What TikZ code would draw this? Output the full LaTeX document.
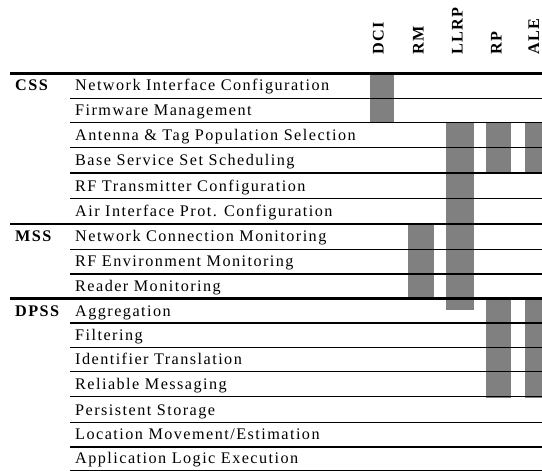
\documentclass[tikz,border=0pt]{standalone}
\usepackage{fontspec}
\setmainfont{Liberation Serif}[LetterSpace=9]
\definecolor{barg}{HTML}{808080}
\begin{document}
\begin{tikzpicture}[x=1pt,y=-1pt,
  rowtxt/.style={anchor=base west, inner sep=0pt, font=\fontsize{16.2}{19}\selectfont},
  grptxt/.style={anchor=base west, inner sep=0pt, font=\fontsize{16.2}{19}\selectfont\bfseries},
  coltxt/.style={anchor=base west, rotate=90, inner sep=0pt, font=\fontsize{16.2}{19}\selectfont\bfseries},
  bar/.style={fill=barg, draw=none},
  thinrule/.style={line width=1.2pt},
  thickrule/.style={line width=2.8pt}]
\useasboundingbox (0,0) rectangle (542,471);

% rule positions (top of each row, plus the bottom rule)
\def\rowys{73.3,98.3,122.8,147.7,173,198.5,224,249.5,274,298.5,323,347.7,371.7,396.7,422.5,447,471}

% shaded participation bars
\fill[bar] (369.5,73.3) rectangle (394,122.8);   % DCI
\fill[bar] (408.3,224) rectangle (434,297);      % RM
\fill[bar] (445.7,122.8) rectangle (473.7,310);  % LLRP
\fill[bar] (485.7,122.8) rectangle (511,173);    % RP
\fill[bar] (485.7,298.5) rectangle (511,397.5);
\fill[bar] (525,122.8) rectangle (545,173);      % ALE
\fill[bar] (525,298.5) rectangle (545,397.5);

% horizontal rules
\foreach \y [count=\i] in \rowys {
  \ifnum\i=1 \draw[thickrule] (10,\y) -- (542,\y);
  \else\ifnum\i=7 \draw[thickrule] (10,\y) -- (542,\y);
  \else\ifnum\i=10 \draw[thickrule] (10,\y) -- (542,\y);
  \else \draw[thinrule] (70,\y) -- (542,\y);
  \fi\fi\fi
}

% column headings
\node[coltxt] (hDCI)  at (383.5,55)   {DCI};
\node[coltxt] (hRM)   at (423.5,55)   {RM};
\node[coltxt] (hLLRP) at (462.5,55)   {LLRP};
\node[coltxt] (hRP)   at (501.5,55)   {RP};
\node[coltxt] (hALE)  at (539,55)     {ALE};

% group labels
\node[grptxt] (gCSS)  at (15,90.8)  {CSS};
\node[grptxt] (gMSS)  at (15,241.5) {MSS};
\node[grptxt] (gDPSS) at (15,316)   {DPSS};

% row labels
\node[rowtxt] (r1)  at (75,90.8)  {Network Interface Configuration};
\node[rowtxt] (r2)  at (75,115.3) {Firmware Management};
\node[rowtxt] (r3)  at (75,140.2) {Antenna \& Tag Population Selection};
\node[rowtxt] (r4)  at (75,165.5) {Base Service Set Scheduling};
\node[rowtxt] (r5)  at (75,191)   {RF Transmitter Configuration};
\node[rowtxt] (r6)  at (75,216.5) {Air Interface Prot. Configuration};
\node[rowtxt] (r7)  at (75,241.5) {Network Connection Monitoring};
\node[rowtxt] (r8)  at (75,266.5) {RF Environment Monitoring};
\node[rowtxt] (r9)  at (75,291)   {Reader Monitoring};
\node[rowtxt] (r10) at (75,316)   {Aggregation};
\node[rowtxt] (r11) at (75,340.2) {Filtering};
\node[rowtxt] (r12) at (75,364.2) {Identifier Translation};
\node[rowtxt] (r13) at (75,389.2) {Reliable Messaging};
\node[rowtxt] (r14) at (75,415)   {Persistent Storage};
\node[rowtxt] (r15) at (75,439.5) {Location Movement/Estimation};
\node[rowtxt] (r16) at (75,463)   {Application Logic Execution};
\end{tikzpicture}
\end{document}
